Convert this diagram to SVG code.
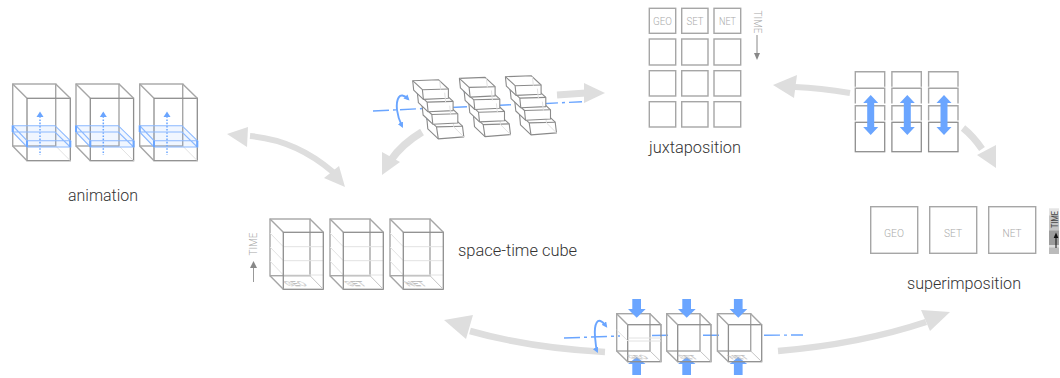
<svg xmlns="http://www.w3.org/2000/svg" xmlns:xlink="http://www.w3.org/1999/xlink" width="1060" height="378" viewBox="0 0 1060 378">
<style>
text{font-family:Roboto,"Liberation Sans",sans-serif}
.lbl{font-size:16px;font-weight:300;fill:#333;text-anchor:middle}
.tag{font-size:11px;font-weight:300;fill:#aaa;text-anchor:middle}
.b{fill:none;stroke:#a6a6a6;stroke-width:1.4}
.bd{fill:none;stroke:#8e8e8e;stroke-width:1.3}
.f{fill:none;stroke:#e2e2e2;stroke-width:1}
.w{fill:#fff;stroke:#8a8a8a;stroke-width:1.1;stroke-linejoin:round}
.g{fill:none;stroke:#dedede;stroke-width:6}
.gh{fill:#dedede}
.ax{fill:none;stroke:#6aa5ff;stroke-width:1.4}
.bl{fill:#6aa5ff}
.rot{fill:none;stroke:#6aa5ff;stroke-width:1.9;marker-end:url(#ah);marker-start:url(#ah)}
.floor{font-size:9px;font-weight:400;fill:none;stroke:#b4b4b4;stroke-width:.4;text-anchor:middle}
</style>
<defs>
<marker id="ah" viewBox="0 0 8 8" refX="5" refY="4" markerWidth="3" markerHeight="3" orient="auto-start-reverse"><path d="M0 0L8 4L0 8Z" fill="#6aa5ff"/></marker>
<g id="acube">
<rect x="12.7" y="84" width="43" height="62" class="b"/>
<rect x="27" y="98.3" width="43.3" height="62.4" class="bd"/>
<path d="M12.7 84L27 98.3M55.7 84L70.3 98.3M12.7 146L27 160.7" class="b"/>
<path d="M55.7 146L70.3 160.7" class="f"/>
<path d="M40 113V155" fill="none" stroke="#6aa5ff" stroke-width="1.5" stroke-dasharray="1.6 1.6"/>
<path d="M36.5 117L40 111.5L43.5 117Z" class="bl"/>
<path d="M12.7 125.7H55L70.3 140.7V147H27L12.7 132Z" fill="#6aa5ff" fill-opacity=".1"/>
<path d="M12.7 125.7H55L70.3 140.7H27ZM12.7 132H55L70.3 147H27L12.7 132" fill="none" stroke="#8ab8ff" stroke-width="1.1"/>
<path d="M12.7 125.7V132M27 140.7V147M70.3 140.7V147" fill="none" stroke="#6aa5ff" stroke-width="2"/>
</g>
<g id="step">
<path d="M0 0L25.7 -1L35.7 8.3L35.7 17.5L10.7 18.7L1 9.5Z" class="w"/>
<path d="M0 0L9.7 9L35.7 8.3M9.7 9L10.7 18.7" class="w" fill="none"/>
</g>
<g id="stack">
<path d="M4.5 12.5L11.5 26M14 38L21 47" class="ax"/>
<g transform="translate(14.1 37.2)"><path d="M0 0L25.7 -1L35.7 8.3L37 19L11.5 21L1 11Z" class="w"/><path d="M0 0L9.7 9L35.7 8.3M9.7 9L11.5 21" class="w"/><path d="M25.7 -1L27 9L37 19" class="f"/></g>
<use xlink:href="#step" x="9.4" y="24.8"/>
<use xlink:href="#step" x="4.7" y="12.4"/>
<use xlink:href="#step"/>
<path d="M27 0L28 9M32 12L33 22M37 25L38 34" class="f"/>
</g>
<g id="scube">
<rect x="270" y="219" width="40" height="56.7" class="b"/>
<path d="M283.3 246.7H323.3M283.3 260.7H323.3M283.3 275H323.3M270 233L283.3 246.7M270 247L283.3 260.7M270 261L283.3 275" class="f"/>
<rect x="283.3" y="232.3" width="40" height="57" class="bd"/>
<path d="M270 219L283.3 232.3M310 219L323.3 232.3M270 275.7L283.3 289.3" class="b"/>
<path d="M310 275.7L323.3 289.3" class="f" style="stroke:#c4c4c4"/>
</g>
<g id="bcube">
<rect x="616.7" y="313.7" width="33.3" height="37.3" class="b"/>
<rect x="627.7" y="324.7" width="33.3" height="37" class="bd"/>
<path d="M616.7 313.7L627.7 324.7M650 313.7L661 324.7M616.7 351L627.7 361.7" class="b"/>
<path d="M650 351L661 361.7" class="f" style="stroke:#c4c4c4"/>
</g>
<path id="down" d="M632.3 299H641V309H645.7L636.7 317.7L628 309H632.3Z" class="bl"/>
<path id="up" d="M636.7 357L645.5 364H641V375H632.3V364H628Z" class="bl"/>
<g id="col">
<path d="M855.3 86.7V71.7H884.7V86.7M855.3 103.5V88.3H884.7V103.5M855.3 120.5V105.7H884.7V120.5" class="b"/>
<rect x="855.3" y="122.3" width="29.4" height="29.4" class="bd"/>
<path d="M870.7 95L878.2 103H874.2V127H878.2L870.7 135L863.2 127H867.2V103H863.2Z" class="bl"/>
</g>
</defs>

<g id="connectors">
<path d="M250 136Q296 140 333 172" class="g"/><path d="M227 134L248 127L247 147Z" class="gh"/><path d="M345 187L339 166L324 178Z" class="gh"/>
<path d="M422 132Q402 144 391 160" class="g" style="stroke-width:7.5"/><path d="M382 175V152L400 162Z" class="gh"/>
<path d="M557 95L586 93" class="g" style="stroke-width:7"/><path d="M605 93L584 83V103Z" class="gh"/>
<path d="M850 93Q820 88 795 87" class="g"/><path d="M773 85L797 75L794 98Z" class="gh"/>
<path d="M963 128Q973 136 982 149" class="g" style="stroke-width:7"/><path d="M996 168V145L977 155Z" class="gh"/>
<path d="M605 352Q530 348 470 331" class="g" style="stroke-width:6.5"/><path d="M444 320L473 315L466 339Z" class="gh"/>
<path d="M778 351Q860 344 926 322" class="g" style="stroke-width:6.5"/><path d="M950 312L921 310L930 331Z" class="gh"/>
</g>

<g id="animation">
<use xlink:href="#acube"/><use xlink:href="#acube" x="63.3"/><use xlink:href="#acube" x="127"/>
<text x="103" y="201" class="lbl" textLength="70" lengthAdjust="spacingAndGlyphs">animation</text>
</g>

<g id="stairs">
<path d="M373 111L424 108.5M451 107.5L472 106.5M495 105.5L517 104.5M542 103.7L582 101.7" class="ax" stroke-dasharray="16 4 3 4"/>
<use xlink:href="#stack" x="412.7" y="80.7"/>
<use xlink:href="#stack" x="459.4" y="78.4"/>
<use xlink:href="#stack" x="505.4" y="76.7"/>
<path d="M408 99C399 90 396 100 397 110C398 118 400 122 402 126" class="rot"/>
</g>

<g id="juxtaposition">
<g class="b">
<rect x="649.3" y="8.3" width="26.4" height="25"/><rect x="681.7" y="8.3" width="26.3" height="25"/><rect x="714" y="8.3" width="26.7" height="25"/>
<rect x="649.3" y="39" width="26.4" height="26"/><rect x="681.7" y="39" width="26.3" height="26"/><rect x="714" y="39" width="26.7" height="26"/>
<rect x="649.3" y="70.7" width="26.4" height="25.3"/><rect x="681.7" y="70.7" width="26.3" height="25.3"/><rect x="714" y="70.7" width="26.7" height="25.3"/>
<rect x="649.3" y="101.7" width="26.4" height="25.3"/><rect x="681.7" y="101.7" width="26.3" height="25.3"/><rect x="714" y="101.7" width="26.7" height="25.3"/>
</g>
<text x="662.5" y="25" class="tag" textLength="19" lengthAdjust="spacingAndGlyphs">GEO</text>
<text x="695" y="25" class="tag" textLength="17" lengthAdjust="spacingAndGlyphs">SET</text>
<text x="727.5" y="25" class="tag" textLength="17" lengthAdjust="spacingAndGlyphs">NET</text>
<text transform="translate(753.5 22) rotate(90)" class="tag" textLength="23" lengthAdjust="spacingAndGlyphs">TIME</text>
<path d="M757 35V53" stroke="#888" fill="none"/><path d="M754 53H760L757 60Z" fill="#888"/>
<text x="695" y="153" class="lbl" textLength="92" lengthAdjust="spacingAndGlyphs">juxtaposition</text>
</g>

<g id="superposed">
<use xlink:href="#col"/><use xlink:href="#col" x="36.6"/><use xlink:href="#col" x="73.3"/>
</g>

<g id="superimposition">
<rect x="870.7" y="206.7" width="47" height="46.6" class="b"/><rect x="929.7" y="206.7" width="47" height="46.6" class="b"/><rect x="988.7" y="206.7" width="47" height="46.6" class="b"/>
<text x="894" y="237" class="tag" textLength="20" lengthAdjust="spacingAndGlyphs">GEO</text>
<text x="953" y="237" class="tag" textLength="18" lengthAdjust="spacingAndGlyphs">SET</text>
<text x="1012" y="237" class="tag" textLength="19" lengthAdjust="spacingAndGlyphs">NET</text>
<rect x="1049" y="208.3" width="10" height="7" fill="#e4e4e4"/><rect x="1049" y="215.3" width="10" height="15" fill="#c4c4c4"/><rect x="1049" y="230.3" width="10" height="15" fill="#9c9c9c"/><rect x="1049" y="245.3" width="10" height="2" fill="#ddd"/><rect x="1049" y="247.3" width="10" height="6.7" fill="#bbb"/>
<text transform="translate(1058 219.5) rotate(-90)" font-size="9" font-weight="400" fill="#444" text-anchor="middle" textLength="17" lengthAdjust="spacingAndGlyphs">TIME</text>
<path d="M1056 238V248" stroke="#111" fill="none"/><path d="M1053.7 238H1058.3L1056 232.5Z" fill="#111"/>
<text x="964" y="289" class="lbl" textLength="114" lengthAdjust="spacingAndGlyphs">superimposition</text>
</g>

<g id="space-time-cube">
<use xlink:href="#scube"/><use xlink:href="#scube" x="60"/><use xlink:href="#scube" x="120"/>
<text transform="matrix(1.15 0 .9 .75 298 286)" class="floor">GEO</text>
<text transform="matrix(1.15 0 .9 .75 358 286)" class="floor">SET</text>
<text transform="matrix(1.15 0 .9 .75 418 286)" class="floor">NET</text>
<text transform="translate(257 244) rotate(-90)" class="tag" textLength="23" lengthAdjust="spacingAndGlyphs">TIME</text>
<path d="M253.5 268V282" stroke="#999" fill="none"/><path d="M250 268H257L253.5 261Z" fill="#888"/>
<text x="517.5" y="256" class="lbl" textLength="119" lengthAdjust="spacingAndGlyphs">space-time cube</text>
</g>

<g id="rotation">
<use xlink:href="#up"/><use xlink:href="#up" x="50"/><use xlink:href="#up" x="101.6"/>
<path d="M564 338L620 336M652 335.5L670 335.3M703 335.3L721 335.2M764 335.2L803 335" class="ax" stroke-dasharray="16 4 3 4"/>
<use xlink:href="#bcube"/><use xlink:href="#bcube" x="50"/><use xlink:href="#bcube" x="100.7"/>
<use xlink:href="#down"/><use xlink:href="#down" x="50"/><use xlink:href="#down" x="101.6"/>
<path d="M606 326C597 314 594 325 595 337C596 345 596 349 597 351" class="rot"/>
<path d="M616.7 330L628 341H661M628 338H661" class="f"/>
<text transform="matrix(1.2 0 .9 .7 640 359)" class="floor" style="font-size:8px">GEO</text>
<text transform="matrix(1.2 0 .9 .7 690 359)" class="floor" style="font-size:8px">SET</text>
<text transform="matrix(1.2 0 .9 .7 740.5 359)" class="floor" style="font-size:8px">NET</text>
</g>
</svg>
